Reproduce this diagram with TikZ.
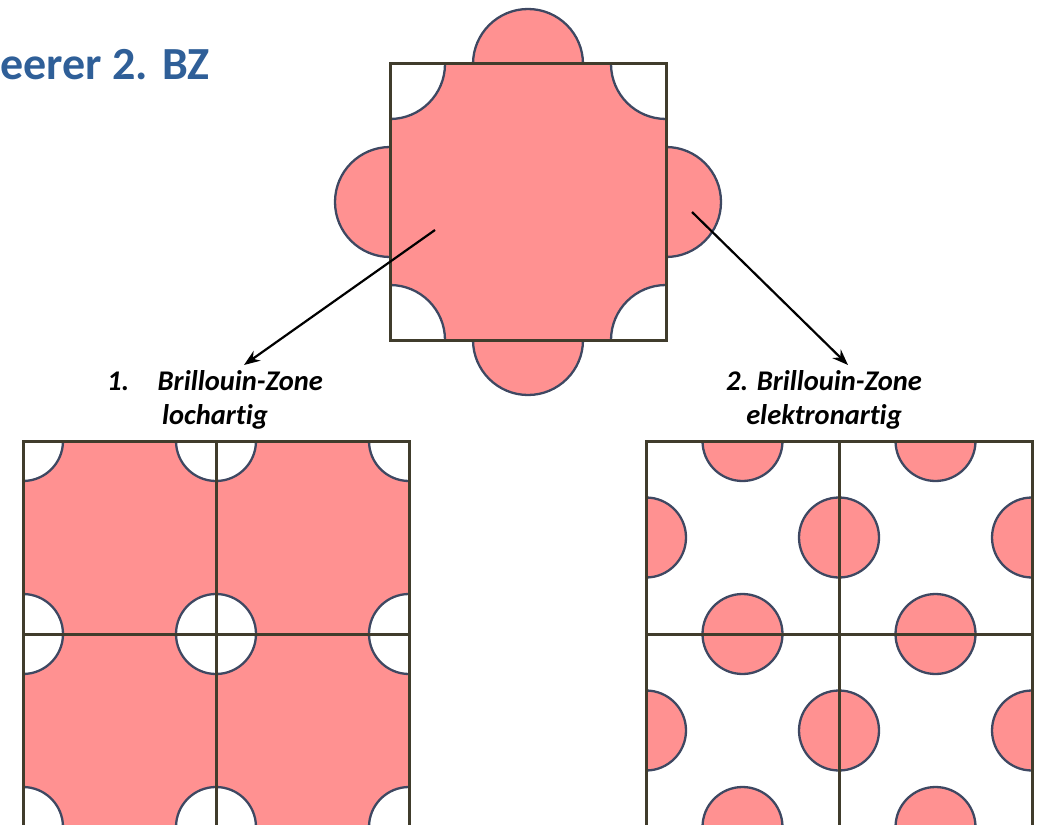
\documentclass[tikz,border=0pt]{standalone}
\usepackage{fontspec}
\setmainfont{Carlito}[Ligatures=NoCommon]
\usetikzlibrary{arrows.meta}
\definecolor{bzpink}{RGB}{255,145,145}
\definecolor{arcline}{RGB}{62,72,98}
\definecolor{gridline}{RGB}{64,60,44}
\definecolor{titleblue}{RGB}{47,95,152}
\tikzset{
  pinkdisc/.style={fill=bzpink, draw=arcline, line width=2.3pt},
  holedisc/.style={fill=white, draw=arcline, line width=2.3pt},
  zoneframe/.style={draw=gridline, line width=3pt},
  zonelabel/.style={font=\fontsize{28.5}{34}\selectfont\bfseries\itshape, align=center, inner sep=0pt},
  pointer/.style={-{Stealth[length=16pt,width=12pt]}, line width=2.2pt, black}
}
\begin{document}
\begin{tikzpicture}[x=1pt,y=-1pt]
\useasboundingbox (0,0) rectangle (1046,824);

% title
\node[anchor=base west, inner sep=0pt, text=titleblue, font=\fontsize{46}{56}\selectfont\bfseries] (title) at (0.5,80) {eerer 2. BZ};

% ---------- top figure ----------
\foreach \p in {(528,64),(528,340),(390,202),(666,202)}
  \filldraw[pinkdisc] \p circle[radius=55pt];
\fill[bzpink] (390,64) rectangle (666,340);
\begin{scope}
  \clip (390,64) rectangle (666,340);
  \foreach \p in {(390,64),(666,64),(390,340),(666,340)}
    \filldraw[holedisc] \p circle[radius=55pt];
\end{scope}
\draw[zoneframe] (390,64) rectangle (666,340);

% ---------- labels ----------
\node[zonelabel] (lab1) at (215,400) {1.\quad Brillouin-Zone\\lochartig};
\node[zonelabel] (lab2) at (824,400) {2. Brillouin-Zone\\elektronartig};

\coordinate (s1) at (435,230);
\coordinate (t1) at (244,365);
\coordinate (s2) at (692,212);
\coordinate (t2) at (848,365);
\draw[pointer] (s1) -- (t1);
\draw[pointer] (s2) -- (t2);

% ---------- bottom left: hole-like ----------
\begin{scope}
  \clip (23,441) rectangle (409,827);
  \fill[bzpink] (23,441) rectangle (409,827);
  \foreach \x in {23,216,409}
    \foreach \y in {441,634,827}
      \filldraw[holedisc] (\x,\y) circle[radius=40pt];
\end{scope}
\draw[zoneframe] (23,441) rectangle (409,827);
\draw[zoneframe] (216,441) -- (216,827);
\draw[zoneframe] (23,634) -- (409,634);

% ---------- bottom right: electron-like ----------
\begin{scope}
  \clip (646,441) rectangle (1032,827);
  \foreach \x in {742.5,935.5}
    \foreach \y in {441,634,827}
      \filldraw[pinkdisc] (\x,\y) circle[radius=40pt];
  \foreach \x in {646,839,1032}
    \foreach \y in {537.5,730.5}
      \filldraw[pinkdisc] (\x,\y) circle[radius=40pt];
\end{scope}
\draw[zoneframe] (646,441) rectangle (1032,827);
\draw[zoneframe] (839,441) -- (839,827);
\draw[zoneframe] (646,634) -- (1032,634);
\end{tikzpicture}
\end{document}
